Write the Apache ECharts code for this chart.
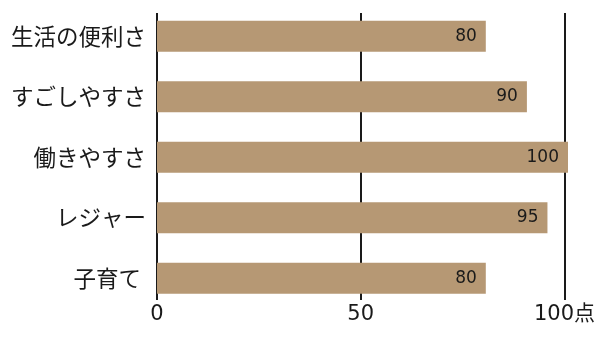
<!DOCTYPE html>
<html>
<head>
<meta charset="utf-8">
<script src="https://cdn.jsdelivr.net/npm/echarts@6/dist/echarts.min.js"></script>
<style>
  html, body { margin: 0; padding: 0; background: #fff; }
  #chart { width: 598px; height: 347px; }
</style>
</head>
<body>
<div id="chart"></div>
<script>
// Satisfaction scores by item (points)
const categories = ['生活の便利さ', 'すごしやすさ', '働きやすさ', 'レジャー', '子育て '];
const scores = [80, 90, 100, 95, 80];
const tickValues = [0, 50, 100];
const unit = '点';

const FONT_JP = '"Noto Sans CJK JP", "Noto Sans", sans-serif';
const FONT_NUM = '"DejaVu Sans", "Noto Sans CJK JP", sans-serif';

const chart = echarts.init(document.getElementById('chart'), null, { renderer: 'canvas' });

chart.setOption({
  animation: false,
  backgroundColor: '#ffffff',
  grid: [
    // bars
    { left: 157, right: 30, top: 6, height: 302.5 },
    // reference lines and tick labels
    { left: 157, right: 30, top: 13, height: 287 }
  ],
  xAxis: [
    {
      gridIndex: 0, type: 'value', min: 0, max: 100,
      show: false
    },
    {
      gridIndex: 1, type: 'value', min: tickValues[0], max: tickValues[tickValues.length - 1],
      interval: tickValues[1] - tickValues[0],
      axisLine: { show: false },
      axisTick: { show: false },
      splitLine: { show: true, lineStyle: { color: '#1a1a1a', width: 2 } },
      axisLabel: {
        color: '#1a1a1a', fontSize: 21, fontFamily: FONT_NUM, margin: 4,
        formatter: v => (v === tickValues[tickValues.length - 1] ? v + unit : String(v))
      }
    }
  ],
  yAxis: [
    {
      gridIndex: 0, type: 'category', data: categories, inverse: true,
      axisLine: { show: false },
      axisTick: { show: false },
      splitLine: { show: false },
      axisLabel: { color: '#1a1a1a', fontSize: 22.5, fontFamily: FONT_JP, margin: 11 }
    },
    {
      gridIndex: 1, type: 'value', show: false, min: 0, max: 1
    }
  ],
  series: [
    {
      type: 'bar',
      xAxisIndex: 0, yAxisIndex: 0,
      data: scores,
      barWidth: 31,
      itemStyle: { color: '#b69874' },
      label: {
        show: true, position: 'insideRight', distance: 9,
        color: '#1a1a1a', fontSize: 17, fontFamily: FONT_NUM
      }
    }
  ]
});
</script>
</body>
</html>
